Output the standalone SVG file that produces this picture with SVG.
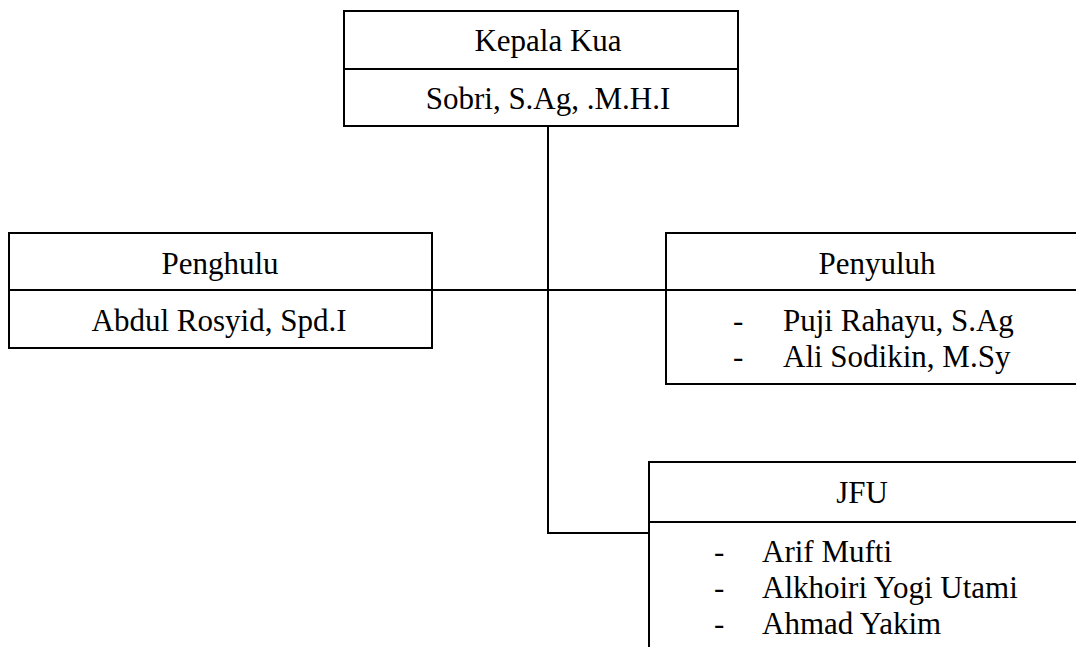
<svg xmlns="http://www.w3.org/2000/svg" width="1076" height="647" viewBox="0 0 1076 647">
<style>
.box{fill:none;stroke:#000;stroke-width:2}
.ln{fill:none;stroke:#000;stroke-width:2}
text{font-family:"Liberation Serif","Times New Roman",serif;font-size:31px;fill:#000}
.c{text-anchor:middle}
</style>
<rect width="1076" height="647" fill="#fff"/>
<g id="connectors">
<line class="ln" x1="548" y1="126" x2="548" y2="533"/>
<line class="ln" x1="432" y1="290" x2="666" y2="290"/>
<line class="ln" x1="547" y1="533" x2="649" y2="533"/>
</g>
<g id="kepala">
<rect class="box" x="344" y="11" width="394" height="115"/>
<line class="ln" x1="344" y1="69" x2="738" y2="69"/>
<text class="c" x="548" y="51">Kepala Kua</text>
<text class="c" x="548" y="109">Sobri, S.Ag, .M.H.I</text>
</g>
<g id="penghulu">
<rect class="box" x="9" y="233" width="423" height="115"/>
<line class="ln" x1="9" y1="290" x2="432" y2="290"/>
<text class="c" x="220" y="274">Penghulu</text>
<text class="c" x="219" y="331">Abdul Rosyid, Spd.I</text>
</g>
<g id="penyuluh">
<path class="box" d="M1080,233 H666 V384 H1080"/>
<line class="ln" x1="666" y1="290" x2="1080" y2="290"/>
<text class="c" x="877" y="274">Penyuluh</text>
<text x="733" y="331">-</text>
<text x="783" y="331">Puji Rahayu, S.Ag</text>
<text x="733" y="367">-</text>
<text x="783" y="367">Ali Sodikin, M.Sy</text>
</g>
<g id="jfu">
<path class="box" d="M1080,462 H649 V650"/>
<line class="ln" x1="649" y1="522" x2="1080" y2="522"/>
<text class="c" x="862" y="503">JFU</text>
<text x="714" y="562">-</text>
<text x="762" y="562">Arif Mufti</text>
<text x="714" y="598">-</text>
<text x="762" y="598">Alkhoiri Yogi Utami</text>
<text x="714" y="634">-</text>
<text x="762" y="634">Ahmad Yakim</text>
</g>
</svg>
